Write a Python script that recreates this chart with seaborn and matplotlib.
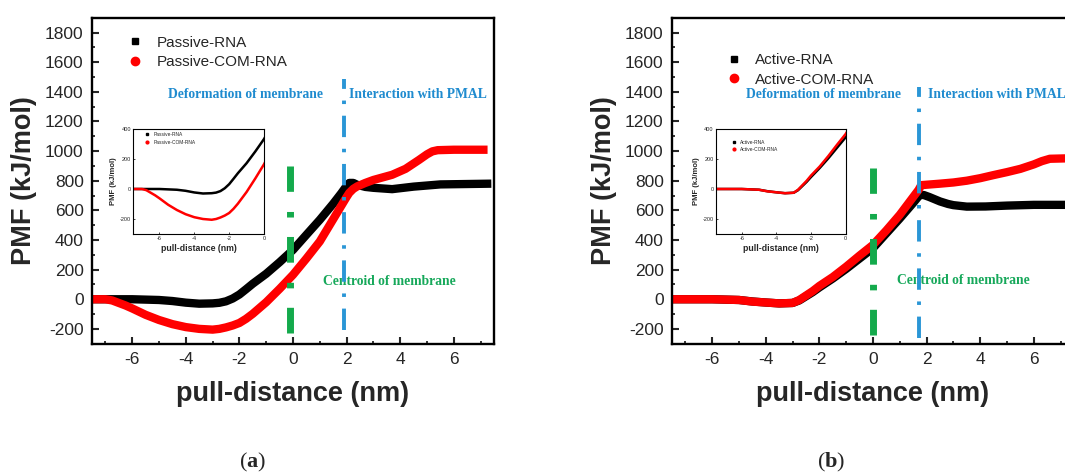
import numpy as np
import pandas as pd
import matplotlib
matplotlib.use("Agg")
import matplotlib.pyplot as plt
import seaborn as sns
from matplotlib.lines import Line2D
from matplotlib.ticker import MultipleLocator

# ---- panel (a): passive pulling ----
passive_rna_x = [-7.5, -6.0, -5.0, -4.5, -4.0, -3.5, -3.0, -2.75, -2.5, -2.25, -2.0, -1.75,
                 -1.5, -1.0, -0.5, 0.0, 0.5, 1.0, 1.5, 1.8, 2.0, 2.1, 2.25, 2.4, 2.7,
                 3.0, 3.7, 4.5, 5.5, 7.4]
passive_rna = [0, 0, -5, -12, -23, -30, -28, -24, -14, 5, 32, 68,
               105, 172, 250, 333, 435, 536, 645, 715, 765, 785, 785, 772, 758,
               752, 743, 760, 775, 780]
passive_com_x = [-7.5, -7.0, -6.75, -6.5, -6.25, -6.0, -5.5, -5.0, -4.5, -4.0, -3.5, -3.0,
                 -2.75, -2.5, -2.25, -2.0, -1.75, -1.5, -1.0, -0.5, 0.0, 0.5, 1.0, 1.5,
                 2.0, 2.1, 2.25, 2.4, 2.7, 3.0, 3.7, 4.2, 4.7, 5.0, 5.2, 5.4, 6.0, 7.26]
passive_com_rna = [0, 0, -8, -25, -42, -62, -105, -140, -168, -188, -200, -205,
                   -200, -190, -177, -160, -132, -98, -20, 70, 165, 275, 390, 540,
                   690, 718, 745, 762, 785, 805, 840, 880, 940, 978, 998, 1006, 1009, 1009]

# ---- panel (b): active pulling ----
active_rna_x = [-7.5, -6.0, -5.0, -4.5, -4.0, -3.5, -3.0, -2.75, -2.5, -2.25, -2.0, -1.5,
                -1.0, -0.5, 0.0, 0.5, 1.0, 1.5, 1.75, 1.9, 2.1, 2.5, 2.8, 3.0, 3.5, 4.2,
                5.0, 6.0, 7.5]
active_rna = [0, 0, -5, -15, -22, -28, -25, -8, 20, 48, 80, 140,
              205, 275, 345, 445, 545, 650, 705, 703, 690, 660, 643, 635, 625, 626,
              632, 637, 637]
active_com_x = [-7.5, -6.0, -5.0, -4.5, -4.0, -3.5, -3.0, -2.75, -2.5, -2.25, -2.0, -1.5,
                -1.0, -0.5, 0.0, 0.5, 1.0, 1.5, 1.7, 1.8, 2.5, 3.0, 3.5, 4.0, 4.5,
                5.0, 5.5, 6.0, 6.3, 6.6, 7.5]
active_com_rna = [0, 0, -5, -16, -22, -28, -25, -5, 25, 55, 90, 150,
                  220, 295, 367, 465, 570, 690, 738, 770, 780, 788, 800, 817, 838,
                  858, 880, 910, 932, 948, 952]

# region markers: x position and (bottom, top) of the dash-dot lines
centroid_a, centroid_span_a = -0.1, (-230, 896)
pmal_a, pmal_span_a = 1.92, (-207, 1488)
centroid_b, centroid_span_b = 0.0, (-241, 885)
pmal_b, pmal_span_b = 1.73, (-262, 1432)

sns.set_theme(style="ticks")
plt.rcParams["font.family"] = ["Liberation Sans", "DejaVu Sans"]
plt.rcParams["axes.unicode_minus"] = False
plt.rcParams["mathtext.fontset"] = "custom"
plt.rcParams["mathtext.bf"] = "Liberation Serif:bold"
plt.rcParams["mathtext.rm"] = "Liberation Serif"

BLUE_LINE = "#2a96d6"
BLUE_TEXT = "#1f8bcf"
GREEN_LINE = "#14aa4c"
GREEN_TEXT = "#16a85a"

W, H = 1065, 474
fig = plt.figure(figsize=(W / 100, H / 100), dpi=100)


def px(l, t, r, b):
    return [l / W, 1 - b / H, (r - l) / W, (b - t) / H]


def style_main(ax):
    ax.set_xlim(-7.5, 7.5)
    ax.set_ylim(-300, 1900)
    ax.xaxis.set_major_locator(MultipleLocator(2))
    ax.xaxis.set_minor_locator(MultipleLocator(1))
    ax.set_yticks(np.arange(-200, 1801, 200))
    ax.yaxis.set_minor_locator(MultipleLocator(100))
    ax.tick_params(which="major", direction="in", length=5, width=1.5,
                   labelsize=12.5, pad=6, top=False, right=False)
    ax.tick_params(which="minor", direction="in", length=2.5, width=1.3,
                   top=False, right=False)
    for s in ax.spines.values():
        s.set_visible(True)
        s.set_linewidth(1.7)
        s.set_color("black")
    ax.set_xlabel("pull-distance (nm)", fontsize=19.5, fontweight="bold", labelpad=10)
    ax.set_ylabel("PMF (kJ/mol)", fontsize=19.5, fontweight="bold", labelpad=6)


def style_inset(ax):
    ax.set_xlim(-7.5, 0)
    ax.set_ylim(-300, 400)
    ax.set_xticks([-6, -4, -2, 0])
    ax.set_yticks([-200, 0, 200, 400])
    ax.tick_params(direction="in", length=1.5, width=0.6, labelsize=4, pad=1.5)
    for s in ax.spines.values():
        s.set_visible(True)
        s.set_linewidth(0.8)
        s.set_color("black")
    ax.set_xlabel("pull-distance (nm)", fontsize=6.3, fontweight="bold", labelpad=2)
    ax.set_ylabel("PMF (kJ/mol)", fontsize=5.5, fontweight="bold", labelpad=2)


def draw_curves(ax, xb, yb, xr, yr, lw):
    sns.lineplot(x=xb, y=yb, ax=ax, color="black", linewidth=lw, sort=False,
                 estimator=None, solid_capstyle="butt", solid_joinstyle="round")
    sns.lineplot(x=xr, y=yr, ax=ax, color="#ff0000", linewidth=lw, sort=False,
                 estimator=None, solid_capstyle="butt", solid_joinstyle="round")


def draw_markers(ax, cx, cspan, bx, bspan):
    ax.plot([cx, cx], cspan, color=GREEN_LINE, linewidth=5,
            linestyle=(0, (3.7, 2.8, 0.8, 2.9)), zorder=5)
    ax.plot([bx, bx], bspan, color=BLUE_LINE, linewidth=2.8,
            linestyle=(0, (5.5, 3.0, 0.9, 3.0)), zorder=5)


def add_legend(ax, labels, anchor, fs, ms_sq, ms_c, pad, spacing):
    handles = [Line2D([], [], ls="", marker="s", color="black", markersize=ms_sq),
               Line2D([], [], ls="", marker="o", color="#ff0000", markersize=ms_c)]
    ax.legend(handles, labels, loc="upper left", bbox_to_anchor=anchor,
              frameon=False, fontsize=fs, handlelength=1.0, handletextpad=pad,
              borderaxespad=0, borderpad=0, labelspacing=spacing)


serif = dict(family=["Liberation Serif", "DejaVu Serif"], fontweight="bold", fontsize=9.8)

# ---- panel (a) ----
ax_a = fig.add_axes(px(92, 17.7, 494, 343.7))
draw_curves(ax_a, passive_rna_x, passive_rna, passive_com_x, passive_com_rna, 6)
draw_markers(ax_a, centroid_a, centroid_span_a, pmal_a, pmal_span_a)
style_main(ax_a)
add_legend(ax_a, ["Passive-RNA", "Passive-COM-RNA"], (0.088, 0.945), 11, 5, 6, 0.92, 0.38)
ax_a.text(-1.77, 1385, "Deformation of membrane", color=BLUE_TEXT, ha="center", va="center", **serif)
ax_a.text(2.08, 1385, "Interaction with PMAL", color=BLUE_TEXT, ha="left", va="center", **serif)
ax_a.text(1.11, 119, "Centroid of membrane", color=GREEN_TEXT, ha="left", va="center", **serif)

ins_a = fig.add_axes(px(133.3, 129, 264, 234))
draw_curves(ins_a, passive_rna_x, passive_rna, passive_com_x, passive_com_rna, 1.8)
style_inset(ins_a)
add_legend(ins_a, ["Passive-RNA", "Passive-COM-RNA"], (0.09, 0.97), 3.5, 1.8, 2.0, 0.8, 0.5)

# ---- panel (b) ----
ax_b = fig.add_axes(px(672, 17.7, 1074, 343.7))
draw_curves(ax_b, active_rna_x, active_rna, active_com_x, active_com_rna, 6)
draw_markers(ax_b, centroid_b, centroid_span_b, pmal_b, pmal_span_b)
style_main(ax_b)
add_legend(ax_b, ["Active-RNA", "Active-COM-RNA"], (0.134, 0.892), 11, 5, 6, 0.92, 0.38)
ax_b.text(-1.85, 1385, "Deformation of membrane", color=BLUE_TEXT, ha="center", va="center", **serif)
ax_b.text(2.07, 1385, "Interaction with PMAL", color=BLUE_TEXT, ha="left", va="center", **serif)
ax_b.text(0.9, 124, "Centroid of membrane", color=GREEN_TEXT, ha="left", va="center", **serif)

ins_b = fig.add_axes(px(715.7, 129, 845.7, 234))
draw_curves(ins_b, active_rna_x, active_rna, active_com_x, active_com_rna, 1.8)
style_inset(ins_b)
add_legend(ins_b, ["Active-RNA", "Active-COM-RNA"], (0.12, 0.90), 3.5, 1.8, 2.0, 0.8, 0.5)

fig.text(253 / W, 1 - 462 / H, r"($\mathbf{a}$)", ha="center", va="center",
         fontsize=16, family=["Liberation Serif", "DejaVu Serif"])
fig.text(831 / W, 1 - 462 / H, r"($\mathbf{b}$)", ha="center", va="center",
         fontsize=16, family=["Liberation Serif", "DejaVu Serif"])

fig.savefig("out.png", dpi=100)
